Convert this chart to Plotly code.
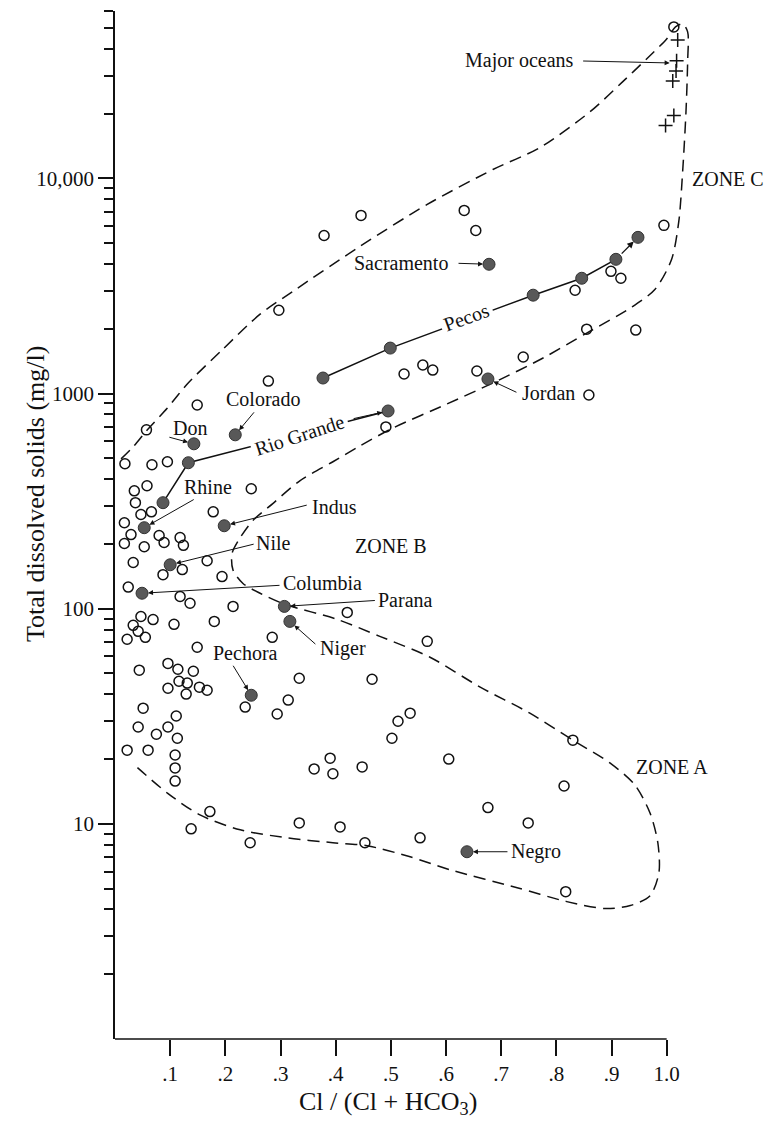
import math
import plotly.graph_objects as go

# ---------------- data ----------------
open_x = [1.013, 0.995, 0.379, 0.446, 0.633, 0.654, 0.297, 0.278, 0.524, 0.558,
          0.576, 0.656, 0.740, 0.855, 0.944, 0.834, 0.899, 0.917, 0.859, 0.491,
          0.149, 0.057, 0.018, 0.067, 0.095, 0.035, 0.058, 0.037, 0.047, 0.066,
          0.017, 0.029, 0.017, 0.053, 0.080, 0.089, 0.118, 0.124, 0.033, 0.167,
          0.122, 0.087, 0.194, 0.024, 0.118, 0.136, 0.214, 0.247, 0.178, 0.047,
          0.069, 0.033, 0.107, 0.042, 0.055, 0.022, 0.180, 0.421, 0.285, 0.149,
          0.044, 0.096, 0.114, 0.142, 0.116, 0.131, 0.096, 0.129, 0.153, 0.167,
          0.236, 0.334, 0.314, 0.294, 0.051, 0.111, 0.042, 0.096, 0.075, 0.113,
          0.022, 0.060, 0.109, 0.109, 0.109, 0.172, 0.138, 0.245, 0.334, 0.408,
          0.361, 0.390, 0.395, 0.448, 0.566, 0.466, 0.513, 0.535, 0.502, 0.605,
          0.830, 0.814, 0.676, 0.749, 0.453, 0.553, 0.817]
open_tds = [50600, 6050, 5430, 6730, 7100, 5730, 2440, 1143, 1233, 1358,
            1286, 1273, 1479, 1992, 1973, 3020, 3700, 3435, 985, 700,
            885, 678, 472, 467, 482, 353, 373, 311, 274, 282,
            251, 221, 201, 194, 219, 203, 214, 197, 164, 167,
            152, 144, 141, 126, 114, 106, 102.5, 361, 282, 92,
            89, 83.7, 84.6, 78.5, 73.6, 72.1, 87.3, 96.1, 73.6, 66.2,
            51.8, 55.7, 52.3, 51.2, 46.0, 45.1, 42.7, 40.1, 43.2, 41.8,
            34.9, 47.5, 37.6, 32.4, 34.5, 31.7, 28.2, 28.2, 26.1, 25.0,
            22.0, 22.0, 20.9, 18.2, 15.8, 11.4, 9.48, 8.17, 10.1, 9.68,
            18.0, 20.2, 17.1, 18.4, 70.5, 47.0, 30.0, 32.7, 25.0, 20.0,
            24.5, 15.0, 11.9, 10.1, 8.17, 8.61, 4.84]

ocean_x = [1.020, 1.018, 1.017, 1.011, 1.013, 0.998]
ocean_tds = [44000, 35200, 31600, 28400, 19600, 17600]

river_names = ["Colorado", "Don", "Rhine", "Indus", "Nile", "Columbia",
               "Parana", "Niger", "Pechora", "Negro", "Sacramento", "Jordan"]
river_x = [0.218, 0.143, 0.053, 0.198, 0.100, 0.049,
           0.307, 0.317, 0.247, 0.638, 0.678, 0.676]
river_tds = [643, 584, 238, 243, 160, 118,
             102.5, 87.3, 39.6, 7.42, 3990, 1169]

rio_grande_x = [0.087, 0.133, 0.495]
rio_grande_tds = [311, 477, 830]

pecos_x = [0.377, 0.499, 0.758, 0.846, 0.908, 0.948]
pecos_tds = [1181, 1627, 2866, 3435, 4207, 5322]

boundary_x = [0.011, 0.033, 0.057, 0.095, 0.131, 0.194, 0.263, 0.323, 0.444, 0.566,
              0.685, 0.770, 0.861, 0.920, 0.964, 1.000, 1.016, 1.029, 1.038, 1.038,
              1.035, 1.029, 1.022, 1.009, 0.979, 0.934, 0.855, 0.776, 0.685, 0.602,
              0.504, 0.444, 0.395, 0.335, 0.286, 0.250, 0.227, 0.212, 0.214, 0.232,
              0.263, 0.307, 0.403, 0.480, 0.571, 0.662, 0.752, 0.830, 0.897, 0.942,
              0.970, 0.984, 0.986, 0.970, 0.934, 0.888, 0.819, 0.729, 0.607, 0.535,
              0.457, 0.395, 0.312, 0.227, 0.154, 0.095, 0.031]
boundary_tds = [497, 566, 671, 857, 1108, 1593, 2339, 2992, 4833, 7570,
                11000, 13900, 20400, 28100, 36000, 44500, 50600, 52300, 48000, 34800,
                20400, 10800, 6310, 4210, 3055, 2495, 1910, 1463, 1120, 895,
                692, 571, 482, 393, 308, 257, 214, 180, 151, 131,
                118, 105, 89.2, 74.4, 59.5, 43.2, 32.7, 24.5, 19.2, 15.2,
                11.2, 8.17, 5.93, 4.64, 4.17, 4.04, 4.35, 5.05, 6.12, 7.03,
                7.91, 8.17, 8.61, 9.38, 11.0, 13.9, 19.2]

x_tick_vals = [0.1, 0.2, 0.3, 0.4, 0.5, 0.6, 0.7, 0.8, 0.9, 1.0]
x_tick_text = [".1", ".2", ".3", ".4", ".5", ".6", ".7", ".8", ".9", "1.0"]
y_tick_vals = [10, 100, 1000, 10000]
y_tick_text = ["10", "100", "1000", "10,000"]
y_minor_vals = [m * 10 ** e for e in range(0, 5) for m in range(2, 10) if m * 10 ** e <= 60000]

# ---------------- figure ----------------
INK = "#111111"
FONT = "Liberation Serif, 'Times New Roman', serif"

fig = go.Figure()

fig.add_trace(go.Scatter(
    x=boundary_x, y=boundary_tds, mode="lines",
    line=dict(color=INK, width=1.5, dash="12px,7px", shape="spline", smoothing=0.8),
    hoverinfo="skip"))

fig.add_trace(go.Scatter(
    x=pecos_x[:5], y=pecos_tds[:5], mode="lines",
    line=dict(color=INK, width=1.5), hoverinfo="skip"))
fig.add_trace(go.Scatter(
    x=rio_grande_x, y=rio_grande_tds, mode="lines",
    line=dict(color=INK, width=1.5), hoverinfo="skip"))

fig.add_trace(go.Scatter(
    x=open_x, y=open_tds, mode="markers",
    marker=dict(symbol="circle-open", size=10, color=INK, line=dict(width=1.5, color=INK))))

fig.add_trace(go.Scatter(
    x=ocean_x, y=ocean_tds, mode="markers",
    marker=dict(symbol="cross-thin-open", size=10, color=INK, line=dict(width=1.5, color=INK))))

filled = dict(symbol="circle", size=12, color="#585858", line=dict(width=1, color="#333333"))
fig.add_trace(go.Scatter(x=river_x, y=river_tds, mode="markers", marker=filled, text=river_names))
fig.add_trace(go.Scatter(x=rio_grande_x, y=rio_grande_tds, mode="markers", marker=filled))
fig.add_trace(go.Scatter(x=pecos_x, y=pecos_tds, mode="markers", marker=filled))

ann = []


def txt(s, x, tds, size=20, angle=0, bg=None):
    d = dict(text=s, x=x, y=math.log10(tds), xref="x", yref="y", showarrow=False,
             font=dict(size=size, color=INK, family=FONT), textangle=angle)
    if bg:
        d.update(bgcolor=bg, borderpad=3)
    ann.append(d)


def arr(x, tds, ax, ay, standoff=6):
    ann.append(dict(text="", x=x, y=math.log10(tds), xref="x", yref="y",
                    ax=ax, ay=ay, axref="pixel", ayref="pixel", showarrow=True,
                    arrowhead=2, arrowsize=1, arrowwidth=1, arrowcolor=INK, standoff=standoff))


def river(name):
    i = river_names.index(name)
    return river_x[i], river_tds[i]


txt("Major oceans", 0.733, 35200)
arr(1.009, 34400, -90, -2, standoff=2)
txt("ZONE C", 1.111, 9890)
txt("ZONE B", 0.501, 196)
txt("ZONE A", 1.009, 18.4)

labels = [("Sacramento", 0.519, 4030, -32, -1),
          ("Jordan", 0.785, 1007, 30, 14),
          ("Colorado", 0.269, 944, 20, -24),
          ("Don", 0.136, 692, -26, -7),
          ("Rhine", 0.169, 369, 51, -29),
          ("Indus", 0.397, 298, 84, -21),
          ("Nile", 0.288, 201, 85, -21),
          ("Columbia", 0.377, 132, 139, -8),
          ("Parana", 0.526, 110, 92, -6),
          ("Niger", 0.413, 65.5, 27, 24),
          ("Pechora", 0.236, 62.1, -19, -31),
          ("Negro", 0.763, 7.42, 42, 0)]
for name, lx, ly, ax, ay in labels:
    txt(name, lx, ly)
    px, py = river(name)
    arr(px, py, ax, ay)

txt("Rio Grande", 0.335, 643, angle=-18, bg="white")
arr(rio_grande_x[2], rio_grande_tds[2], -36, 8)
txt("Pecos", 0.638, 2265, angle=-20, bg="white")
ann.append(dict(text="", x=pecos_x[5], y=math.log10(pecos_tds[5]), xref="x", yref="y",
                ax=pecos_x[4], ay=math.log10(pecos_tds[4]), axref="x", ayref="y",
                showarrow=True, arrowhead=2, arrowsize=1, arrowwidth=1.3,
                arrowcolor=INK, standoff=6, startstandoff=6))

# axis titles
ann.append(dict(text="Cl / (Cl + HCO<sub>3</sub>)", x=0.494, y=0, xref="x", yref="paper",
                yanchor="middle", xanchor="center",
                yshift=-64, showarrow=False, font=dict(size=26, color=INK, family=FONT)))
ann.append(dict(text="Total dissolved solids (mg/l)", x=-0.121, y=0.530, xref="paper", yref="paper",
                xanchor="center", yanchor="middle",
                textangle=-90, showarrow=False, font=dict(size=26, color=INK, family=FONT)))

# page body adds an 8px offset, so the figure is 770x1117 with margins shifted accordingly
fig.update_layout(
    width=770, height=1117,
    margin=dict(l=107, r=1, t=3, b=86, autoexpand=False),
    paper_bgcolor="white", plot_bgcolor="white",
    showlegend=False,
    font=dict(family=FONT, size=20, color=INK),
    annotations=ann,
    shapes=[dict(type="line", xref="x", yref="paper", x0=0, x1=1.0, y0=0, y1=0,
                 line=dict(color=INK, width=1.5))],
    xaxis=dict(range=[0, 1.2], tickmode="array", tickvals=x_tick_vals, ticktext=x_tick_text,
               ticks="outside", ticklen=16, tickwidth=1.5, tickcolor=INK,
               showgrid=False, zeroline=False, showline=False, automargin=False,
               tickfont=dict(size=21, color=INK, family=FONT)),
    yaxis=dict(type="log", range=[0, math.log10(60000)], tickmode="array",
               tickvals=y_tick_vals, ticktext=y_tick_text,
               ticks="outside", ticklen=15, tickwidth=1.5, tickcolor=INK,
               showline=True, linecolor=INK, linewidth=1.5,
               showgrid=False, zeroline=False, automargin=False,
               tickfont=dict(size=21, color=INK, family=FONT),
               minor=dict(tickmode="array", tickvals=y_minor_vals, ticks="outside",
                          ticklen=9, tickwidth=1.5, tickcolor=INK, showgrid=False)),
)

fig.write_html("out.html")
